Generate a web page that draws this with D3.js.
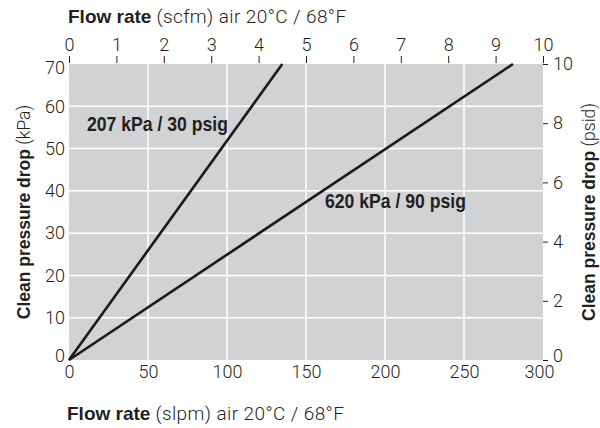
<!DOCTYPE html>
<html>
<head>
<meta charset="utf-8">
<script src="https://cdn.jsdelivr.net/npm/d3@7"></script>
<style>
  body { margin: 0; background: #fff; }
  text { fill: #231f20; }
  .light { font-family: Roboto, "Liberation Sans", sans-serif; font-weight: 300; }
  .bold { font-family: "Liberation Sans", Arial, sans-serif; font-weight: bold; }
  .tick text { font-family: Roboto, "Liberation Sans", sans-serif; font-weight: 300; font-size: 18px; fill: #231f20; }
</style>
</head>
<body>
<svg id="chart" width="600" height="428"></svg>
<script>
// Axis ticks.
const slpmTicks = [0, 50, 100, 150, 200, 250, 300];
const scfmTicks = [0, 1, 2, 3, 4, 5, 6, 7, 8, 9, 10];
const kpaTicks = [0, 10, 20, 30, 40, 50, 60, 70];
const psidTicks = [0, 2, 4, 6, 8, 10];

// Lines: [slpm, kPa]
const line207 = [[0, 0], [135, 70]];
const line620 = [[0, 0], [281, 70]];
const seriesNames = ["207 kPa / 30 psig", "620 kPa / 90 psig"];

const svg = d3.select('#chart');
const plotLeft = 69, plotRight = 543, plotTop = 64, plotBottom = 360;

const x = d3.scaleLinear().domain([0, 300]).range([plotLeft, plotRight]);
const xTop = d3.scaleLinear().domain([0, 10]).range([plotLeft, plotRight]);
const y = d3.scaleLinear().domain([0, 70]).range([plotBottom, plotTop]);
const yRight = d3.scaleLinear().domain([0, 10]).range([plotBottom, plotTop]);

// plot background
svg.append('rect')
  .attr('x', plotLeft).attr('y', plotTop)
  .attr('width', plotRight - plotLeft).attr('height', plotBottom - plotTop)
  .attr('fill', '#d1d2d4');

// white grid
const grid = svg.append('g').attr('stroke', '#fff').attr('stroke-width', 1.5);
grid.selectAll('.gx')
  .data(slpmTicks.slice(1, -1))
  .join('line')
  .attr('x1', d => x(d)).attr('x2', d => x(d))
  .attr('y1', plotTop).attr('y2', plotBottom);
grid.selectAll('.gy')
  .data(kpaTicks.slice(1, -1))
  .join('line')
  .attr('x1', plotLeft).attr('x2', plotRight)
  .attr('y1', d => y(d)).attr('y2', d => y(d));

// bottom axis (labels only)
const bAxis = svg.append('g')
  .attr('transform', `translate(0, ${plotBottom})`)
  .call(d3.axisBottom(x).tickValues(slpmTicks).tickSize(0).tickPadding(5));
bAxis.select('.domain').remove();
bAxis.selectAll('.tick').filter(d => d === 300).select('text').attr('dx', -4);

// left axis (labels only)
const lAxis = svg.append('g')
  .attr('transform', `translate(${plotLeft}, 0)`)
  .call(d3.axisLeft(y).tickValues(kpaTicks).tickSize(0).tickPadding(4));
lAxis.select('.domain').remove();
lAxis.selectAll('.tick').filter(d => d === 70).select('text').attr('dy', '0.55em');
lAxis.selectAll('.tick').filter(d => d === 0).select('text').attr('dy', '0.1em');

// top axis with ticks
const tAxis = svg.append('g')
  .attr('transform', `translate(0, ${plotTop - 1})`)
  .call(d3.axisTop(xTop).tickValues(scfmTicks).tickSize(7).tickPadding(5));
tAxis.select('.domain').remove();

// right axis with ticks
const rAxis = svg.append('g')
  .attr('transform', `translate(${plotRight}, 0)`)
  .call(d3.axisRight(yRight).tickValues(psidTicks).tickSize(5).tickPadding(5));
rAxis.select('.domain').remove();
rAxis.selectAll('.tick').filter(d => d === 0).select('text').attr('dy', '0.1em');

svg.selectAll('.tick line').attr('stroke', '#231f20').attr('stroke-width', 1);

// lines
const lineGen = d3.line().x(d => x(d[0])).y(d => y(d[1]));
svg.selectAll('.series')
  .data([line207, line620])
  .join('path')
  .attr('d', lineGen)
  .attr('fill', 'none')
  .attr('stroke', '#1a1a1a')
  .attr('stroke-width', 2.6);

// series labels (condensed bold in the original, so squeeze)
const labelAt = [[11.4, 54.2], [162, 35.9]];
svg.selectAll('.slabel')
  .data(seriesNames)
  .join('text')
  .attr('x', (d, i) => x(labelAt[i][0]))
  .attr('y', (d, i) => y(labelAt[i][1]))
  .attr('font-family', '"Liberation Sans", Arial, sans-serif')
  .attr('font-weight', 'bold')
  .attr('font-size', 21)
  .attr('textLength', 141)
  .attr('lengthAdjust', 'spacingAndGlyphs')
  .attr('fill', '#231f20')
  .text(d => d);

// axis titles
function title(g, boldPart, lightPart, spacing) {
  g.append('tspan').attr('class', 'bold').text(boldPart);
  g.append('tspan').attr('class', 'light').attr('letter-spacing', spacing).text(lightPart);
}
title(svg.append('text').attr('x', 68).attr('y', 23).attr('font-size', 19),
  'Flow rate', ' (scfm) air 20°C / 68°F', 0.4);
title(svg.append('text').attr('x', 67).attr('y', 420).attr('font-size', 19),
  'Flow rate', ' (slpm) air 20°C / 68°F', 0.4);
title(svg.append('text')
    .attr('transform', 'translate(30, 212) rotate(-90)')
    .attr('text-anchor', 'middle').attr('font-size', 17.5),
  'Clean pressure drop', ' (kPa)', 0);
title(svg.append('text')
    .attr('transform', 'translate(595, 212) rotate(-90)')
    .attr('text-anchor', 'middle').attr('font-size', 17.5),
  'Clean pressure drop', ' (psid)', 0);
</script>
</body>
</html>
